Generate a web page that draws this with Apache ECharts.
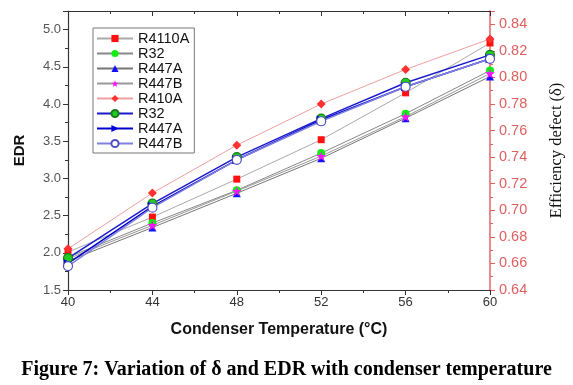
<!DOCTYPE html>
<html>
<head>
<meta charset="utf-8">
<script src="https://cdn.jsdelivr.net/npm/echarts@6/dist/echarts.min.js"></script>
<style>
html,body{margin:0;padding:0;background:#fff;}
#c{width:573px;height:385px;}
</style>
</head>
<body>
<div id="c"></div>
<script>
// Condenser temperature (°C)
const temps = [40, 44, 48, 52, 56, 60];
// EDR values (left axis)
const edrR4110A = [2.01, 2.48, 2.99, 3.52, 4.15, 4.82];
const edrR32    = [1.94, 2.40, 2.84, 3.34, 3.87, 4.45];
const edrR447A  = [1.89, 2.34, 2.80, 3.27, 3.81, 4.37];
const edrR447B  = [1.92, 2.37, 2.83, 3.30, 3.83, 4.41];
// Efficiency defect values (right axis)
const delR410A = [0.671, 0.713, 0.749, 0.780, 0.806, 0.829];
const delR32   = [0.664, 0.705, 0.740, 0.769, 0.796, 0.817];
const delR447A = [0.660, 0.703, 0.738, 0.768, 0.793, 0.814];
const delR447B = [0.658, 0.702, 0.738, 0.767, 0.793, 0.814];
const legendNames = ['R4110A', 'R32', 'R447A', 'R447B', 'R410A', 'R32 ', 'R447A ', 'R447B '];

const pair = (ys) => temps.map((t, i) => [t, ys[i]]);
const star = 'path://M50,0 L61,35 L98,35 L68,57 L79,91 L50,70 L21,91 L32,57 L2,35 L39,35 Z';

function s(name, data, yIdx, lineColor, lineWidth, symbol, size, fill, border, rotate) {
  return {
    name: name, type: 'line', xAxisIndex: 0, yAxisIndex: yIdx,
    data: pair(data), symbol: symbol, symbolSize: size, symbolRotate: rotate || 0,
    showSymbol: true,
    lineStyle: {color: lineColor, width: lineWidth},
    itemStyle: {color: fill, borderColor: border || fill, borderWidth: border ? 1.2 : 0},
    z: 2
  };
}

const chart = echarts.init(document.getElementById('c'));
chart.setOption({
  animation: false,
  backgroundColor: '#fff',
  grid: {left: 68, right: 81, top: 11, bottom: 95},
  legend: {
    orient: 'vertical', left: 93, top: 28,
    data: legendNames,
    formatter: (n) => n.trim(),
    itemWidth: 36, itemHeight: 9, itemGap: 0,
    padding: [3, 5, 2, 3],
    borderColor: '#777', borderWidth: 1, backgroundColor: '#fff',
    textStyle: {fontFamily: 'Liberation Sans, Arial', fontSize: 14.5, color: '#111', lineHeight: 13}
  },
  xAxis: [{
    type: 'value', min: 40, max: 60, interval: 4, position: 'bottom',
    name: 'Condenser Temperature (°C)', nameLocation: 'middle', nameGap: 32,
    nameTextStyle: {fontFamily: 'Liberation Sans, Arial', fontWeight: 'bold', fontSize: 16, color: '#111'},
    axisLine: {show: true, lineStyle: {color: '#333', width: 1.2}},
    axisTick: {show: true, inside: false, length: 5, lineStyle: {color: '#333'}},
    minorTick: {show: true, splitNumber: 2, length: 3, lineStyle: {color: '#333'}},
    axisLabel: {fontFamily: 'Liberation Sans, Arial', fontSize: 13, color: '#333', margin: 6},
    splitLine: {show: false}
  }, {
    type: 'value', min: 40, max: 60, interval: 4, position: 'top',
    axisLine: {show: true, lineStyle: {color: '#333', width: 1.2}},
    axisTick: {show: true, inside: true, length: 5, lineStyle: {color: '#333'}},
    minorTick: {show: true, splitNumber: 2, length: 3, lineStyle: {color: '#333'}},
    axisLabel: {show: false},
    splitLine: {show: false}
  }],
  yAxis: [{
    type: 'value', min: 1.5, max: 5.25, interval: 0.5, position: 'left',
    name: 'EDR', nameLocation: 'middle', nameGap: 41, nameRotate: 90,
    nameTextStyle: {fontFamily: 'Liberation Sans, Arial', fontWeight: 'bold', fontSize: 15, color: '#111'},
    axisLine: {show: true, lineStyle: {color: '#333', width: 1.2}},
    axisTick: {show: true, inside: false, length: 5, lineStyle: {color: '#333'}},
    minorTick: {show: true, splitNumber: 2, length: 3, lineStyle: {color: '#333'}},
    axisLabel: {fontFamily: 'Liberation Sans, Arial', fontSize: 13, color: '#555', margin: 7,
      showMaxLabel: false, formatter: (v) => v.toFixed(1)},
    splitLine: {show: false}
  }, {
    type: 'value', min: 0.64, max: 0.85, interval: 0.02, position: 'right',
    name: 'Efficiency defect (δ)', nameLocation: 'middle', nameGap: 58, nameRotate: 90,
    nameTextStyle: {fontFamily: 'Liberation Serif, Times New Roman', fontSize: 16.5, color: '#111'},
    axisLine: {show: true, lineStyle: {color: '#e06666', width: 1.5}},
    axisTick: {show: true, inside: false, length: 5, lineStyle: {color: '#e06666'}},
    minorTick: {show: true, splitNumber: 2, length: 3, lineStyle: {color: '#e06666'}},
    axisLabel: {fontFamily: 'Liberation Sans, Arial', fontSize: 14.5, color: '#e06060', margin: 9,
      showMaxLabel: false, formatter: (v) => v.toFixed(2)},
    splitLine: {show: false}
  }],
  graphic: [{
    type: 'text', left: 'center', top: 360,
    style: {text: 'Figure 7: Variation of δ and EDR with condenser temperature',
      fontFamily: 'Liberation Serif, Times New Roman', fontWeight: 'bold', fontSize: 20, fill: '#000'}
  }],
  series: [
    s('R4110A', edrR4110A, 0, '#aaaaaa', 1, 'rect', 7, '#ff1010'),
    s('R32', edrR32, 0, '#888888', 1, 'circle', 8, '#10ee10'),
    s('R447A', edrR447A, 0, '#777777', 1, 'triangle', 8, '#1010ff'),
    s('R447B', edrR447B, 0, '#999999', 1, star, 10, '#ff10ff'),
    s('R410A', delR410A, 1, '#eea0a0', 1, 'diamond', 9, '#ff3030'),
    s('R32 ', delR32, 1, '#1a1acc', 1.5, 'circle', 9, '#22cc22', '#1a7a1a'),
    s('R447A ', delR447A, 1, '#0000cc', 1.5, 'triangle', 9, '#0000dd', null, -90),
    s('R447B ', delR447B, 1, '#8080e0', 1.5, 'circle', 9, '#ffffff', '#5050c0')
  ]
});
</script>
</body>
</html>
